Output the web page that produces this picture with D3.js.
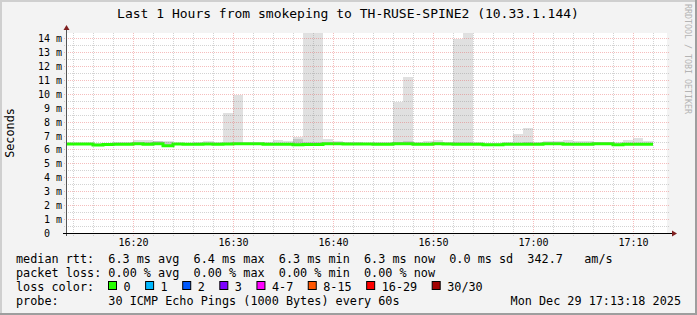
<!DOCTYPE html>
<html>
<head>
<meta charset="utf-8">
<script src="https://cdn.jsdelivr.net/npm/d3@7"></script>
<style>
  body { margin: 0; background: #fff; }
  svg { display: block; }
  text { font-family: "DejaVu Sans Mono", monospace; fill: #000; white-space: pre; }
</style>
</head>
<body>
<svg id="chart" width="697" height="315"></svg>
<script>
const title = "Last 1 Hours from smokeping to TH-RUSE-SPINE2 (10.33.1.144)";
const yTitle = "Seconds";
const watermark = "RRDTOOL / TOBI OETIKER";

const yTickValues = [0, 1, 2, 3, 4, 5, 6, 7, 8, 9, 10, 11, 12, 13, 14];
const yTickLabels = ["0  ", "1 m", "2 m", "3 m", "4 m", "5 m", "6 m", "7 m", "8 m", "9 m", "10 m", "11 m", "12 m", "13 m", "14 m"];

const viewStart = new Date(2025, 11, 29, 16, 13, 24);
const viewEnd = new Date(2025, 11, 29, 17, 13, 24);
// one step per minute, each value covers the minute ending at its timestamp
const stepTimes = d3.timeMinute.range(new Date(2025, 11, 29, 16, 14), new Date(2025, 11, 29, 17, 13));

// median rtt (ms)
const medianMs = [
  6.39, 6.39, 6.39, 6.32, 6.36, 6.38, 6.38, 6.40, 6.37, 6.40,
  6.27, 6.39, 6.38, 6.38, 6.39, 6.38, 6.39, 6.40, 6.40, 6.40,
  6.37, 6.38, 6.38, 6.33, 6.36, 6.36, 6.40, 6.40, 6.39, 6.39,
  6.39, 6.37, 6.37, 6.40, 6.40, 6.37, 6.37, 6.40, 6.39, 6.37,
  6.37, 6.38, 6.34, 6.34, 6.37, 6.37, 6.37, 6.38, 6.40, 6.40,
  6.38, 6.38, 6.37, 6.40, 6.40, 6.33, 6.37, 6.38, 6.37
];
// slowest ping of each step (top of the smoke)
const maxMs = [
  6.45, 6.45, 6.45, 6.45, 6.45, 6.55, 6.55, 6.70, 6.70, 6.62,
  6.62, 6.45, 6.45, 6.55, 6.62, 6.50, 8.64, 9.88, 6.45, 6.45,
  6.55, 6.70, 6.62, 6.87, 14.6, 14.6, 6.77, 6.63, 6.55, 6.51,
  6.45, 6.55, 6.55, 9.43, 11.22, 6.55, 6.60, 6.68, 6.55, 13.90,
  14.6, 6.52, 6.48, 6.48, 6.51, 7.13, 7.56, 6.55, 6.60, 6.60,
  6.68, 6.62, 6.62, 6.55, 6.50, 6.51, 6.70, 6.84, 6.62
];
// fastest ping of each step (bottom of the smoke)
const minMs = [
  6.30, 6.30, 6.30, 6.26, 6.22, 6.30, 6.30, 6.31, 6.30, 6.31,
  6.22, 6.31, 6.30, 6.30, 6.31, 6.30, 6.31, 6.31, 6.31, 6.31,
  6.29, 6.30, 6.30, 6.26, 6.28, 6.28, 6.31, 6.31, 6.31, 6.31,
  6.31, 6.29, 6.29, 6.31, 6.31, 6.29, 6.29, 6.31, 6.31, 6.29,
  6.29, 6.30, 6.27, 6.27, 6.29, 6.29, 6.29, 6.30, 6.31, 6.31,
  6.30, 6.30, 6.29, 6.31, 6.31, 6.26, 6.29, 6.30, 6.29
];
// upper edge of the dense (darker) part of the smoke
const denseMs = [
  6.44, 6.44, 6.44, 6.40, 6.42, 6.45, 6.45, 6.47, 6.55, 6.60,
  6.55, 6.44, 6.44, 6.46, 6.48, 6.44, 6.46, 6.47, 6.45, 6.45,
  6.44, 6.46, 6.45, 6.75, 6.55, 6.55, 6.47, 6.46, 6.44, 6.44,
  6.44, 6.44, 6.44, 6.55, 6.60, 6.44, 6.45, 6.47, 6.44, 6.50,
  6.50, 6.44, 6.41, 6.41, 6.44, 6.48, 6.50, 6.44, 6.46, 6.46,
  6.45, 6.45, 6.44, 6.45, 6.45, 6.40, 6.46, 6.48, 6.45
];

const statLines = [
  "median rtt:  6.3 ms avg  6.4 ms max  6.3 ms min  6.3 ms now  0.0 ms sd  342.7   am/s",
  "packet loss: 0.00 % avg  0.00 % max  0.00 % min  0.00 % now"
];
const lossTitle = "loss color:";
const lossLabels = ["0", "1", "2", "3", "4-7", "8-15", "16-29", "30/30"];
const lossColors = ["#26ff00", "#00b8ff", "#0059ff", "#7e00ff", "#ff00ff", "#ff5500", "#ff0000", "#a10000"];
const probeLine = "probe:       30 ICMP Echo Pings (1000 Bytes) every 60s";
const stamp = "Mon Dec 29 17:13:18 2025";

const W = 697, H = 315;
const plot = { left: 67, right: 667, top: 33, bottom: 233 };

const svg = d3.select("#chart");

// background + 3d frame
svg.append("rect").attr("width", W).attr("height", H).attr("fill", "#f3f3f3");
svg.append("path").attr("d", `M0,${H} V0 H${W}`).attr("fill", "none").attr("stroke", "#cfcfcf").attr("stroke-width", 4);
svg.append("path").attr("d", `M0,${H} H${W} V0`).attr("fill", "none").attr("stroke", "#9e9e9e").attr("stroke-width", 4);

const x = d3.scaleTime().domain([viewStart, viewEnd]).range([plot.left, plot.right]);
const y = d3.scaleLinear().domain([0, 14.36]).range([plot.bottom, plot.top]);
const px = v => Math.round(v);

svg.append("rect")
  .attr("x", plot.left).attr("y", plot.top)
  .attr("width", plot.right - plot.left).attr("height", plot.bottom - plot.top)
  .attr("fill", "#fff");

svg.append("clipPath").attr("id", "clip")
  .append("rect")
  .attr("x", plot.left).attr("y", plot.top)
  .attr("width", plot.right - plot.left).attr("height", plot.bottom - plot.top);

const steps = stepTimes.map((t, i) => ({
  t0: d3.timeMinute.offset(t, -1), t1: t,
  med: medianMs[i], max: maxMs[i], min: minMs[i], dense: denseMs[i]
}));

const data = svg.append("g").attr("clip-path", "url(#clip)");

// light smoke
data.append("g").selectAll("rect")
  .data(steps)
  .join("rect")
  .attr("x", d => px(x(d.t0)))
  .attr("width", d => px(x(d.t1)) - px(x(d.t0)))
  .attr("y", d => px(y(d.max)))
  .attr("height", d => px(y(d.min)) - px(y(d.max)))
  .attr("fill", "#e0e0e0");

// dense smoke
data.append("g").selectAll("rect")
  .data(steps)
  .join("rect")
  .attr("x", d => px(x(d.t0)))
  .attr("width", d => px(x(d.t1)) - px(x(d.t0)))
  .attr("y", d => px(y(d.dense)))
  .attr("height", d => Math.max(0, px(y(d.min)) - px(y(d.dense))))
  .attr("fill", "#c6c6c6");

// grid
const grid = svg.append("g");
const minorY = d3.range(0.5, 14.36, 1);
grid.selectAll(".ymin")
  .data(minorY)
  .join("line")
  .attr("x1", plot.left - 3).attr("x2", plot.right + 2)
  .attr("y1", d => px(y(d)) + 0.5).attr("y2", d => px(y(d)) + 0.5)
  .attr("stroke", "rgba(128,128,128,0.35)").attr("stroke-dasharray", "1,1");
grid.selectAll(".ymaj")
  .data(yTickValues.filter(v => v > 0))
  .join("line")
  .attr("x1", plot.left - 3).attr("x2", plot.right + 2)
  .attr("y1", d => px(y(d)) + 0.5).attr("y2", d => px(y(d)) + 0.5)
  .attr("stroke", "rgba(230,90,90,0.4)").attr("stroke-dasharray", "1,1");

const majorX = x.ticks(d3.timeMinute.every(10));
const minorX = x.ticks(d3.timeMinute.every(2)).filter(t => t.getMinutes() % 10 !== 0);
grid.selectAll(".xmin")
  .data(minorX)
  .join("line")
  .attr("x1", d => px(x(d)) + 0.5).attr("x2", d => px(x(d)) + 0.5)
  .attr("y1", plot.top).attr("y2", plot.bottom + 3)
  .attr("stroke", "rgba(128,128,128,0.35)").attr("stroke-dasharray", "1,1");
grid.selectAll(".xmaj")
  .data(majorX)
  .join("line")
  .attr("x1", d => px(x(d)) + 0.5).attr("x2", d => px(x(d)) + 0.5)
  .attr("y1", plot.top).attr("y2", plot.bottom + 3)
  .attr("stroke", "rgba(230,90,90,0.4)").attr("stroke-dasharray", "1,1");

// median line
const medPts = [{ t: steps[0].t0, v: steps[0].med }].concat(steps.map(d => ({ t: d.t1, v: d.med })));
data.append("path")
  .datum(medPts)
  .attr("fill", "none")
  .attr("stroke", lossColors[0])
  .attr("stroke-width", 3)
  .attr("d", d3.line().x(d => x(d.t)).y(d => y(d.v)).curve(d3.curveStepBefore));

// axes
svg.append("line")
  .attr("x1", plot.left - 0.5).attr("x2", plot.left - 0.5)
  .attr("y1", plot.bottom + 3).attr("y2", plot.top - 4)
  .attr("stroke", "#555");
svg.append("path")
  .attr("d", `M${plot.left - 3.5},${plot.top - 3} L${plot.left - 0.5},${plot.top - 8} L${plot.left + 2.5},${plot.top - 3} Z`)
  .attr("fill", "#7f1f1f");
svg.append("line")
  .attr("x1", plot.left - 4).attr("x2", plot.right + 5)
  .attr("y1", plot.bottom + 0.5).attr("y2", plot.bottom + 0.5)
  .attr("stroke", "#000");
svg.append("path")
  .attr("d", `M${plot.right + 5},${plot.bottom - 2.5} L${plot.right + 10},${plot.bottom + 0.5} L${plot.right + 5},${plot.bottom + 3.5} Z`)
  .attr("fill", "#7f1f1f");

// tick labels
svg.append("g").selectAll("text")
  .data(yTickValues)
  .join("text")
  .attr("x", 62).attr("y", d => px(y(d)) + 4)
  .attr("text-anchor", "end")
  .attr("font-size", "10px")
  .text((d, i) => yTickLabels[i]);

const fmt = d3.timeFormat("%H:%M");
svg.append("g").selectAll("text")
  .data(majorX)
  .join("text")
  .attr("x", d => px(x(d)) + 0.5).attr("y", plot.bottom + 13)
  .attr("text-anchor", "middle")
  .attr("font-size", "10px")
  .text(fmt);

// titles
svg.append("text")
  .attr("x", 348).attr("y", 18)
  .attr("text-anchor", "middle")
  .attr("font-size", "13px")
  .text(title);

svg.append("text")
  .attr("transform", `translate(14,${(plot.top + plot.bottom) / 2}) rotate(-90)`)
  .attr("text-anchor", "middle")
  .attr("font-size", "11.8px")
  .text(yTitle);

svg.append("text")
  .attr("transform", "translate(685,4) rotate(90)")
  .attr("font-size", "8.3px")
  .style("fill", "#b4b4b4")
  .text(watermark);

// legend
const legend = svg.append("g").attr("font-size", "11.8px");
legend.selectAll(".stat")
  .data(statLines)
  .join("text")
  .attr("x", 16).attr("y", (d, i) => 263 + i * 14)
  .text(d => d);

legend.append("text").attr("x", 16).attr("y", 291).text(lossTitle);
let lx = 108.5;
lossLabels.forEach((lab, i) => {
  legend.append("rect")
    .attr("x", lx).attr("y", 281.5).attr("width", 8).attr("height", 8)
    .attr("fill", lossColors[i]).attr("stroke", "#000");
  const t = legend.append("text").attr("x", lx + 15).attr("y", 291).text(lab);
  lx += 15 + t.node().getComputedTextLength() + 15;
});

legend.append("text").attr("x", 16).attr("y", 305).text(probeLine);
legend.append("text").attr("x", 681).attr("y", 305).attr("text-anchor", "end").text(stamp);
</script>
</body>
</html>
